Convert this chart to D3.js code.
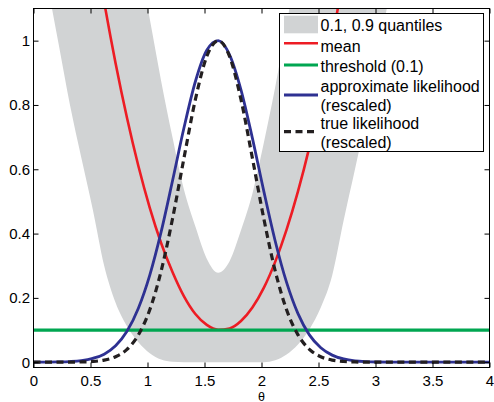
<!DOCTYPE html>
<html><head><meta charset="utf-8">
<script src="https://cdn.jsdelivr.net/npm/d3@7"></script>
<style>
body{margin:0;background:#fff}
svg{display:block;font-family:"Liberation Sans",Arial,Helvetica,sans-serif}
</style>
</head><body>
<svg id="c" width="494" height="402"></svg>
<script>
// ---------------- data ----------------
const theta = [0,0.12,0.22,0.32,0.42,0.52,0.62,0.72,0.82,0.92,1.02,1.12,1.22,1.32,1.42,1.52,1.62,1.72,1.82,1.92,2.02,2.12,2.22,2.32,2.42,2.52,2.62,2.72,2.82,2.92,3.02,3.12,3.22,3.32,3.42,3.52,3.62,3.72,3.82,3.92,4.0];

// 0.1 quantile (lower edge of grey band); null = above the plot
const q10 = [null,1.18,0.99,0.80,0.635,0.475,0.30,0.185,0.112,0.062,0.028,0.008,0.001,0,0,0,0,0,0,0,0,0.006,0.024,0.055,0.102,0.17,0.27,0.44,0.60,0.765,0.95,1.14,null,null,null,null,null,null,null,null,null];

// 0.9 quantile (upper edge of grey band); null = above the plot
const q90 = [null,null,null,null,null,null,null,null,null,1.25,1.067,0.874,0.698,0.536,0.422,0.322,0.278,0.314,0.41,0.524,0.682,0.855,1.05,1.24,null,null,null,null,null,null,null,null,null,null,null,null,null,null,null,null,null];

const mean = [null,null,null,null,1.55,1.33,1.12,0.93,0.76,0.61,0.48,0.37,0.28,0.205,0.15,0.116,0.101,0.105,0.128,0.17,0.231,0.312,0.412,0.531,0.669,0.827,1.003,1.199,1.414,null,null,null,null,null,null,null,null,null,null,null,null];

const approxLik = [0,0.0002,0.0007,0.002,0.005,0.012,0.025,0.051,0.096,0.168,0.271,0.406,0.565,0.729,0.873,0.970,1.0,0.956,0.847,0.697,0.532,0.377,0.248,0.151,0.085,0.045,0.022,0.010,0.004,0.0016,0.0006,0.0002,0,0,0,0,0,0,0,0,0];

const trueLik = [0,0,0.0001,0.0002,0.0007,0.0022,0.0065,0.017,0.040,0.085,0.163,0.284,0.447,0.635,0.817,0.951,1.0,0.951,0.817,0.635,0.447,0.284,0.163,0.085,0.040,0.017,0.0065,0.0022,0.0007,0.0002,0.0001,0,0,0,0,0,0,0,0,0,0];

const threshold = 0.1;
const thresholdX = [0, 4];

const xTicks = [0,0.5,1,1.5,2,2.5,3,3.5,4];
const yTicks = [0,0.2,0.4,0.6,0.8,1];
const xLabel = "θ";

const legendLabels = [
  ["0.1, 0.9 quantiles"],
  ["mean"],
  ["threshold (0.1)"],
  ["approximate likelihood","(rescaled)"],
  ["true likelihood","(rescaled)"]
];

// ---------------- drawing ----------------
const C = {band:"#d1d3d4", red:"#ed1c24", green:"#00a651", blue:"#2e3192", black:"#231f20"};
const svg = d3.select("#c");
const x = d3.scaleLinear().domain([0,4]).range([33.5,489.5]);
const y = d3.scaleLinear().domain([-0.0165,1.1]).range([367.5,8.5]);
const yAbove = 1.3;

svg.append("defs").append("clipPath").attr("id","clip")
  .append("rect").attr("x",x(0)).attr("y",y(1.1)).attr("width",x(4)-x(0)).attr("height",y(-0.0165)-y(1.1));

const plot = svg.append("g").attr("clip-path","url(#clip)");

const rows = theta.map((t,i)=>({t, q10:q10[i], q90:q90[i], mean:mean[i], a:approxLik[i], tr:trueLik[i]}));

// band
plot.append("path")
  .datum(rows)
  .attr("fill",C.band)
  .attr("d", d3.area()
    .defined(d=>d.q10!==null)
    .x(d=>x(d.t))
    .y0(d=>y(d.q10))
    .y1(d=>y(d.q90===null?yAbove:d.q90))
    .curve(d3.curveMonotoneX));

const line = key => d3.line()
  .defined(d=>d[key]!==null)
  .x(d=>x(d.t)).y(d=>y(d[key]))
  .curve(d3.curveMonotoneX);

plot.append("path").datum(rows).attr("fill","none").attr("stroke",C.red).attr("stroke-width",2.6).attr("d",line("mean"));
plot.append("path").datum(thresholdX.map(t=>({t,v:threshold}))).attr("fill","none").attr("stroke",C.green).attr("stroke-width",3.2)
  .attr("d",d3.line().x(d=>x(d.t)).y(d=>y(d.v)));
plot.append("path").datum(rows).attr("fill","none").attr("stroke",C.blue).attr("stroke-width",2.8).attr("d",line("a"));
plot.append("path").datum(rows).attr("fill","none").attr("stroke",C.black).attr("stroke-width",3.2)
  .attr("stroke-dasharray","7,4.5").attr("d",line("tr"));

// axes
const fmt = d3.format("");
const styleAxis = g => { g.select(".domain").remove(); g.selectAll("line").attr("stroke","#000"); g.selectAll("text").attr("fill","#000").attr("font-size","15px").attr("font-family",'"Liberation Sans",Arial,sans-serif'); };
svg.append("g").attr("transform",`translate(${x(0)},0)`).call(d3.axisLeft(y).tickValues(yTicks).tickFormat(fmt).tickSize(-5).tickPadding(3.5)).call(styleAxis);
svg.append("g").attr("transform",`translate(${x(4)},0)`).call(d3.axisRight(y).tickValues(yTicks).tickFormat("").tickSize(-5)).call(styleAxis);
svg.append("g").attr("transform",`translate(0,${y(-0.0165)})`).call(d3.axisBottom(x).tickValues(xTicks).tickFormat(fmt).tickSize(-5).tickPadding(8)).call(styleAxis);
svg.append("g").attr("transform",`translate(0,${y(1.1)})`).call(d3.axisTop(x).tickValues(xTicks).tickFormat("").tickSize(-5)).call(styleAxis);

svg.append("rect").attr("x",x(0)).attr("y",y(1.1)).attr("width",x(4)-x(0)).attr("height",y(-0.0165)-y(1.1))
  .attr("fill","none").attr("stroke","#000").attr("stroke-width",1);

svg.append("text").attr("x",x(2)).attr("y",400.5).attr("text-anchor","middle").attr("font-size","12.5px").attr("fill","#000").text(xLabel);

// legend
const lg = svg.append("g");
lg.append("rect").attr("x",279.5).attr("y",13.5).attr("width",204).attr("height",138).attr("fill","#fff").attr("stroke","#000").attr("stroke-width",1);
const baselines = [[31],[51.5],[72],[91.5,111],[129,147.5]];
const symY = [24.5,43.3,65,95,131.7];
const sx0 = 284, sx1 = 318;
lg.append("rect").attr("x",sx0).attr("y",15.7).attr("width",sx1-sx0).attr("height",17.6).attr("fill",C.band);
const symStyles = [null,{c:C.red,w:2.6},{c:C.green,w:3.2},{c:C.blue,w:2.8},{c:C.black,w:3.2,dash:"7,4.5"}];
symStyles.forEach((s,i)=>{
  if(!s) return;
  const l = lg.append("line").attr("x1",sx0).attr("x2",sx1).attr("y1",symY[i]).attr("y2",symY[i]).attr("stroke",s.c).attr("stroke-width",s.w);
  if(s.dash) l.attr("stroke-dasharray",s.dash);
});
legendLabels.forEach((lines,i)=>{
  lines.forEach((t,j)=>{
    lg.append("text").attr("x",320.5).attr("y",baselines[i][j]).attr("font-size","16px").attr("fill","#000").text(t);
  });
});
</script>
</body></html>
